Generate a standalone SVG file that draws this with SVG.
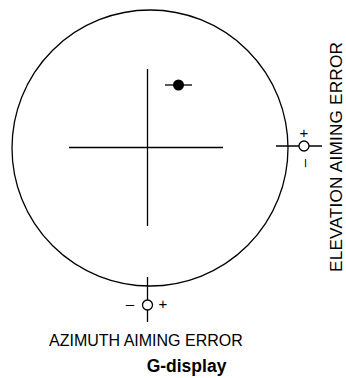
<svg xmlns="http://www.w3.org/2000/svg" width="346" height="378" viewBox="0 0 346 378">
<style>
.ln{stroke:#000;stroke-width:1.3;fill:none}
.t{font-family:"Liberation Sans",Arial,sans-serif;fill:#000}
.pm{font-family:"Liberation Sans",Arial,sans-serif;fill:#000;font-size:15px;text-anchor:middle}
</style>
<rect width="346" height="378" fill="#fff"/>
<g id="screen"><circle class="ln" cx="150" cy="148" r="138"/></g>
<g id="crosshair">
<line class="ln" x1="69" y1="147.5" x2="223" y2="147.5"/>
<line class="ln" x1="147.5" y1="69" x2="147.5" y2="226"/>
</g>
<g id="target">
<line class="ln" x1="165" y1="85" x2="192" y2="85"/>
<circle cx="178.5" cy="85" r="5.5" fill="#000"/>
</g>
<g id="connectors">
<g id="elevation-marker">
<line class="ln" x1="276" y1="146" x2="322" y2="146"/>
<circle cx="304" cy="146" r="5" fill="#fff" stroke="#000" stroke-width="1.3"/>
<text class="pm" x="304" y="138">+</text>
<text class="pm" transform="translate(308.5,163) rotate(-90)">–</text>
</g>
<g id="azimuth-marker">
<line class="ln" x1="147.5" y1="277" x2="147.5" y2="322"/>
<circle cx="147.5" cy="305" r="5" fill="#fff" stroke="#000" stroke-width="1.3"/>
<text class="pm" x="130" y="308.5">–</text>
<text class="pm" x="163" y="309">+</text>
</g>
</g>
<text class="t" x="49" y="345.5" font-size="16">AZIMUTH AIMING ERROR</text>
<text class="t" font-size="17.2" textLength="230" lengthAdjust="spacing" transform="translate(341.5,272) rotate(-90)">ELEVATION AIMING ERROR</text>
<text class="t" x="186.5" y="372" font-size="17.5" font-weight="bold" text-anchor="middle">G-display</text>
</svg>
